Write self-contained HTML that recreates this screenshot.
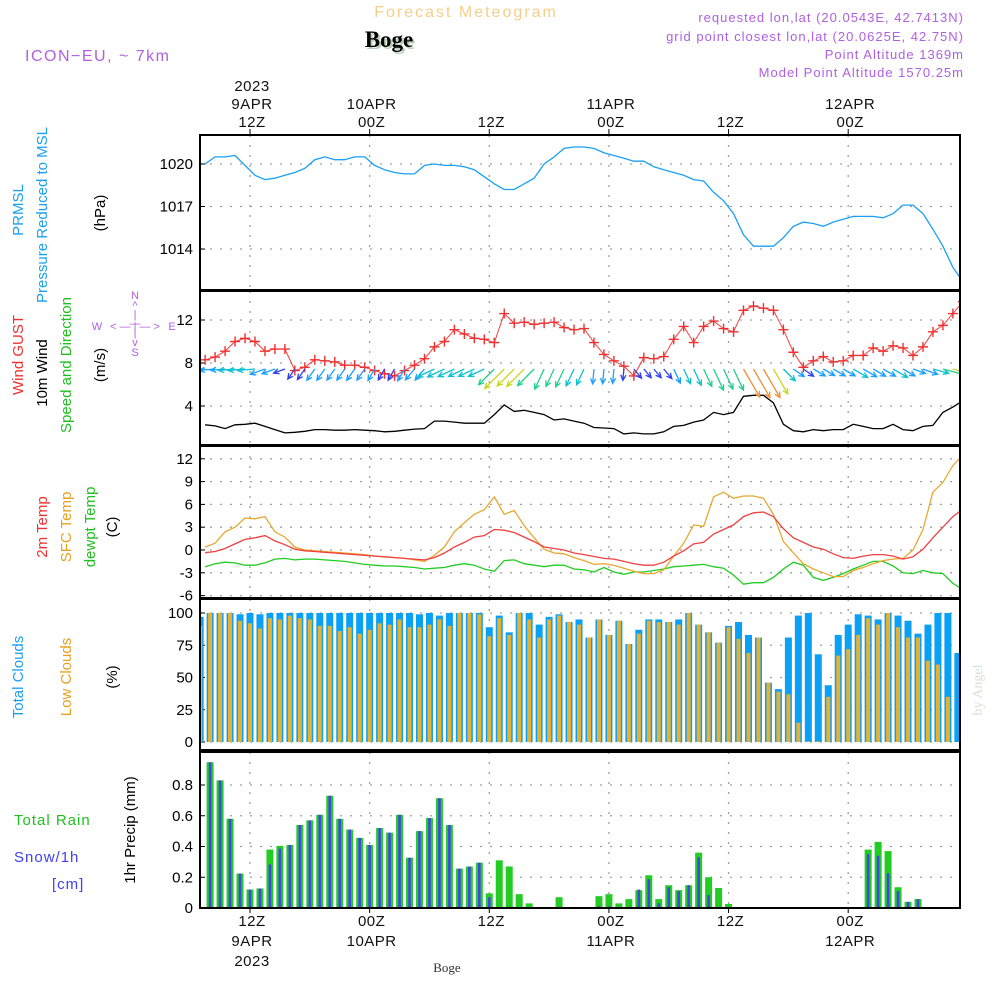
<!DOCTYPE html>
<html><head><meta charset="utf-8"><style>
html,body{margin:0;padding:0;background:#fff;width:1000px;height:1000px;overflow:hidden}
svg{display:block;font-family:"Liberation Sans",sans-serif}
</style></head><body>
<svg id="c" width="1000" height="1000" viewBox="0 0 1000 1000" xmlns="http://www.w3.org/2000/svg">
<text x="466" y="17" font-size="16" fill="#f5cf8a" text-anchor="middle" letter-spacing="2">Forecast Meteogram</text>
<text x="391" y="49" font-size="23" font-weight="bold" font-family="Liberation Serif,serif" fill="#b8d0b8" text-anchor="middle">Boge</text>
<text x="389" y="47" font-size="23" font-weight="bold" font-family="Liberation Serif,serif" fill="#000" text-anchor="middle">Boge</text>
<text x="25" y="61" font-size="16" fill="#b060e0" letter-spacing="1.5">ICON−EU, ~ 7km</text>
<g font-size="13" fill="#b060e0" text-anchor="end" letter-spacing="1">
<text x="964" y="22">requested lon,lat (20.0543E, 42.7413N)</text>
<text x="964" y="41">grid point closest lon,lat (20.0625E, 42.75N)</text>
<text x="964" y="59">Point Altitude 1369m</text>
<text x="964" y="77">Model Point Altitude 1570.25m</text>
</g>
<text transform="translate(982,690) rotate(-90)" font-size="14" font-family="Liberation Serif,serif" fill="#d8e0d8" text-anchor="middle">by Angel</text>
<text x="447" y="972" font-size="13" font-family="Liberation Serif,serif" fill="#333" text-anchor="middle">Boge</text>
<g id="leftlabels" font-size="15">
<text transform="translate(23,210) rotate(-90)" fill="#1aa0f0" text-anchor="middle">PRMSL</text>
<text transform="translate(47,215) rotate(-90)" fill="#1aa0f0" text-anchor="middle">Pressure Reduced to MSL</text>
<text transform="translate(105,213) rotate(-90)" fill="#000" text-anchor="middle">(hPa)</text>
<text transform="translate(23,355) rotate(-90)" fill="#f03030" text-anchor="middle">Wind GUST</text>
<text transform="translate(47,373) rotate(-90)" fill="#000" text-anchor="middle">10m Wind</text>
<text transform="translate(71,365) rotate(-90)" fill="#20c020" text-anchor="middle">Speed and Direction</text>
<text transform="translate(105,365) rotate(-90)" fill="#000" text-anchor="middle">(m/s)</text>
<text transform="translate(47,527) rotate(-90)" fill="#f03030" text-anchor="middle">2m Temp</text>
<text transform="translate(71,527) rotate(-90)" fill="#e8a020" text-anchor="middle">SFC Temp</text>
<text transform="translate(95,527) rotate(-90)" fill="#20c020" text-anchor="middle">dewpt Temp</text>
<text transform="translate(117,527) rotate(-90)" fill="#000" text-anchor="middle">(C)</text>
<text transform="translate(23,677) rotate(-90)" fill="#1aa0f0" text-anchor="middle">Total Clouds</text>
<text transform="translate(71,677) rotate(-90)" fill="#e8a020" text-anchor="middle">Low Clouds</text>
<text transform="translate(117,677) rotate(-90)" fill="#000" text-anchor="middle">(%)</text>
<text x="14" y="825" fill="#20c020" letter-spacing="1">Total   Rain</text>
<text x="14" y="862" fill="#4040f0" letter-spacing="1">Snow/1h</text>
<text x="52" y="889" fill="#4040f0" letter-spacing="1">[cm]</text>
<text transform="translate(135,830) rotate(-90)" fill="#000" text-anchor="middle">1hr Precip (mm)</text>
<g fill="#b060e0" font-size="11" text-anchor="middle">
<text x="135" y="299">N</text><text x="135" y="309">^</text><text x="135" y="327">—</text>
<text x="135" y="318">|</text><text x="135" y="336">|</text>
<text x="97" y="330">W</text><text x="135" y="330">&lt; — | — &gt;</text><text x="172" y="330">E</text>
<text x="135" y="346">v</text><text x="135" y="356">S</text>
</g>
</g>
<g id="plot"></g>
</svg>
<script>
// ---- data ----
const pointTimes0 = 7.5; // hours from 9APR 00Z of first hourly point
const pressure = [1020.0,1020.5,1020.5,1020.6,1019.9,1019.2,1018.9,1019.0,1019.2,1019.4,1019.7,1020.3,1020.5,1020.3,1020.3,1020.5,1020.5,1019.9,1019.6,1019.4,1019.3,1019.3,1019.9,1020.0,1019.9,1019.9,1019.8,1019.6,1019.1,1018.6,1018.2,1018.2,1018.6,1019.0,1020.0,1020.5,1021.1,1021.2,1021.2,1021.1,1020.8,1020.6,1020.4,1020.2,1020.2,1019.8,1019.6,1019.4,1019.2,1018.9,1018.8,1018.0,1017.4,1016.5,1015.0,1014.2,1014.2,1014.2,1014.8,1015.6,1015.9,1015.8,1015.6,1015.9,1016.1,1016.3,1016.3,1016.3,1016.2,1016.5,1017.1,1017.1,1016.5,1015.4,1014.2,1012.7,1011.7];
const gust = [8.3,8.55,9.1,10.0,10.3,10.0,9.1,9.3,9.3,7.3,7.6,8.3,8.2,8.1,7.8,7.8,7.6,7.3,7.0,6.8,7.3,7.8,8.4,9.5,10.0,11.1,10.7,10.3,10.2,9.9,12.6,11.7,11.8,11.6,11.7,11.8,11.3,11.1,11.2,9.9,8.8,8.2,7.7,6.8,8.5,8.4,8.6,10.2,11.4,9.9,11.4,11.9,11.2,10.9,12.9,13.3,13.1,12.9,11.1,9.0,7.6,8.2,8.6,8.1,8.2,8.7,8.7,9.4,9.1,9.6,9.4,8.7,9.5,10.9,11.5,12.6,13.7];
const wind = [2.25,2.15,1.9,2.25,2.3,2.4,2.1,1.8,1.5,1.55,1.65,1.8,1.8,1.75,1.75,1.8,1.75,1.7,1.6,1.65,1.75,1.85,1.9,2.6,2.6,2.5,2.4,2.4,2.4,3.2,4.1,3.5,3.6,3.4,3.2,2.7,2.8,2.6,2.4,2.0,1.95,1.9,1.4,1.5,1.4,1.4,1.6,2.1,2.2,2.5,2.7,3.4,3.2,3.4,4.9,5.0,5.0,4.3,2.3,1.7,1.6,1.8,1.7,1.8,1.8,2.3,2.1,1.9,1.9,2.3,1.8,1.7,2.1,2.2,3.4,3.9,4.5];
const windDir = [85,85,85,85,85,85,70,70,70,35,35,35,35,35,35,35,35,30,30,30,30,40,40,65,65,65,65,65,65,45,45,45,45,45,25,25,25,25,25,5,5,5,5,320,320,320,320,335,335,335,335,335,335,335,330,330,330,330,315,305,305,300,300,300,300,300,300,300,300,300,300,290,290,285,285,285,285];
const temp2m = [-0.36,-0.2,0.2,0.8,1.4,1.6,1.9,1.2,0.7,0.1,-0.1,-0.2,-0.3,-0.4,-0.5,-0.6,-0.7,-0.8,-0.9,-1.0,-1.1,-1.2,-1.3,-1.0,-0.4,0.4,1.0,1.7,1.9,2.7,2.6,2.3,1.7,1.1,0.4,0.2,0.0,-0.4,-0.6,-0.85,-1.1,-1.2,-1.5,-1.8,-2.0,-2.0,-1.6,-0.8,-0.1,0.8,1.0,2.1,2.7,3.3,4.4,4.9,5.0,4.4,2.8,1.6,1.0,0.4,0.1,-0.5,-1.0,-1.1,-0.8,-0.6,-0.6,-0.8,-1.2,-0.9,0.1,1.6,3.0,4.4,5.4];
const tempSfc = [0.4,0.9,2.4,3.0,4.2,4.1,4.4,2.4,1.7,0.4,0.0,-0.1,-0.2,-0.3,-0.4,-0.5,-0.6,-0.8,-0.9,-1.0,-1.1,-1.3,-1.5,-0.7,0.4,2.4,3.6,4.7,5.3,7.0,4.7,5.2,3.2,1.6,0.1,-0.4,-0.5,-1.0,-1.4,-1.9,-1.8,-2.0,-2.4,-2.8,-3.1,-3.1,-2.6,-0.8,0.9,3.3,3.1,7.0,7.6,6.8,7.1,7.1,6.8,4.7,1.1,-0.4,-1.8,-2.5,-3.0,-3.5,-3.5,-2.7,-2.3,-1.8,-1.4,-1.2,-1.1,0.0,2.7,7.6,8.9,11.1,12.5];
const dewpt = [-2.2,-1.8,-1.6,-1.7,-2.0,-2.0,-1.7,-1.2,-1.1,-1.3,-1.2,-1.2,-1.3,-1.4,-1.5,-1.7,-1.9,-2.0,-2.1,-2.1,-2.2,-2.3,-2.5,-2.4,-2.3,-2.0,-1.8,-2.0,-2.5,-2.8,-1.4,-1.3,-1.8,-2.0,-2.2,-2.0,-2.0,-2.5,-2.6,-2.9,-2.3,-2.9,-3.2,-2.9,-2.9,-2.7,-2.5,-2.2,-2.1,-2.0,-1.9,-2.2,-2.4,-3.3,-4.5,-4.3,-4.3,-3.6,-2.5,-1.6,-2.0,-3.6,-4.0,-3.6,-3.1,-2.5,-2.0,-1.5,-1.5,-2.1,-3.0,-3.1,-2.7,-3.0,-3.1,-4.4,-5.2];
const barTime0 = 7; // hour of first bar
const totalClouds = [97,100,100,100,99,100,99,100,100,100,100,100,100,100,100,100,100,100,100,100,100,100,99,100,98,100,100,100,100,89,98,85,100,100,91,97,99,93,95,81,95,83,94,76,87,95,95,93,95,100,91,85,77,90,93,83,81,46,41,81,98,100,68,44,83,91,99,98,95,100,98,94,84,91,100,100,69];
const lowClouds = [90,100,100,100,94,92,88,96,95,98,96,95,90,90,86,89,84,87,92,91,95,89,89,91,95,90,100,100,99,82,96,83,100,95,81,95,98,93,91,81,95,83,94,76,84,94,93,93,91,100,91,85,77,89,80,69,81,46,39,37,15,0.5,0.5,35,67,72,83,96,91,100,89,81,81,63,60,35,0];
const rainTotal = [0,0.948,0.83,0.58,0.224,0.12,0.127,0.38,0.404,0.41,0.54,0.57,0.606,0.73,0.58,0.51,0.456,0.41,0.52,0.49,0.606,0.327,0.50,0.585,0.714,0.54,0.256,0.27,0.295,0.095,0.31,0.27,0.09,0.03,0.005,0.005,0.07,0,0,0,0.077,0.09,0.03,0.058,0.116,0.213,0.058,0.148,0.116,0.148,0.36,0.2,0.13,0.026,0,0,0,0,0,0,0,0,0,0,0,0,0.006,0.38,0.43,0.37,0.135,0.04,0.058,0,0,0,0];
const snow = [0,0.948,0.83,0.58,0.224,0.12,0.127,0.284,0.387,0.41,0.54,0.57,0.606,0.73,0.58,0.51,0.456,0.41,0.52,0.49,0.606,0.327,0.50,0.585,0.714,0.54,0.256,0.27,0.295,0.07,0,0,0,0.005,0,0,0,0,0,0,0.01,0.01,0,0,0.12,0.187,0.03,0.135,0.11,0.148,0.33,0.084,0,0,0,0,0,0,0,0,0,0,0,0,0,0,0,0.35,0.34,0.226,0.11,0.04,0.058,0.003,0,0,0];
const pTicks = [1020,1017,1014];
const wTicks = [4,8,12];
const tTicks = [12,9,6,3,0,-3,-6];
const cTicks = [100,75,50,25,0];
const rTicks = [0.8,0.6,0.4,0.2,0];
const dayTicks = [12,24,36,48,60,72];

// ---- scales ----
const X0=200, X1=960;
const xT = t => 250 + (t-12)*9.97;
const yP = p => 164 - (p-1020)*14.17;
const yW = v => 406 - (v-4)*10.75;
const yT = v => 550 - 7.6*v;
const yC = v => 742 - 1.29*v;
const yR = v => 908 - 153.75*v;
const panels=[[135,290],[291,445],[446,598],[599,750],[752,908]];

const NS='http://www.w3.org/2000/svg';
const plot=document.getElementById('plot');
function mk(tag,attrs,parent){const e=document.createElementNS(NS,tag);for(const k in attrs)e.setAttribute(k,attrs[k]);(parent||plot).appendChild(e);return e;}
const clip=mk('clipPath',{id:'pc'});mk('rect',{x:X0,y:130,width:X1-X0,height:780},clip);

// grids
const gridG=mk('g',{'stroke':'#a0a0a0','stroke-width':1.3,'stroke-dasharray':'2,8'});


panels.forEach(([a,b])=>{dayTicks.forEach(t=>mk('line',{x1:xT(t),x2:xT(t),y1:a,y2:b},gridG));});
function hgrid(vals,f){vals.forEach(v=>mk('line',{x1:X0,x2:X1,y1:f(v),y2:f(v)},gridG));}
hgrid(pTicks,yP);hgrid(wTicks,yW);hgrid(tTicks,yT);hgrid(cTicks,yC);hgrid(rTicks,yR);

// tick labels
function ylabels(vals,f,name,fmt){const g=mk('g',{'font-size':15,'text-anchor':'end',fill:'#000'});


vals.forEach(v=>{const t=mk('text',{x:193,y:f(v)+5},g);t.textContent=fmt?fmt(v):v;mk('line',{x1:X0,x2:X0+5,y1:f(v),y2:f(v),stroke:'#000'},g);});}
ylabels(pTicks,yP,'pressure-y-ticks');ylabels(wTicks,yW,'wind-y-ticks');ylabels(tTicks,yT,'temp-y-ticks');ylabels(cTicks,yC,'cloud-y-ticks');ylabels(rTicks,yR,'precip-y-ticks',v=>v===0?'0':v.toFixed(1));

const cg=mk('g',{'clip-path':'url(#pc)'});
// clouds
totalClouds.forEach((v,j)=>{const cx=xT(barTime0+j);
 const r=mk('rect',{x:cx-3.5,y:yC(v),width:7,height:yC(0)-yC(v),fill:'#0aa0f5'},cg);
 
 
 const o=mk('rect',{x:cx-2,y:yC(lowClouds[j]),width:4,height:yC(0)-yC(lowClouds[j]),fill:'#e8b030'},cg);
 
 });
// precip
rainTotal.forEach((v,j)=>{const cx=xT(barTime0+j);
 if(v>0){const r=mk('rect',{x:cx-3.5,y:yR(v),width:7,height:yR(0)-yR(v),fill:'#22cc22'},cg);
 
 }
 if(snow[j]>0){const s=mk('rect',{x:cx-1.3,y:yR(snow[j]),width:2.6,height:yR(0)-yR(snow[j]),fill:'#4444ee'},cg);
 
 }});
mk('line',{x1:X0,x2:X1,y1:yR(0)-0.5,y2:yR(0)-0.5,stroke:'#333','stroke-width':1,'stroke-dasharray':'4,2'},cg);

function line(arr,f,color,name,w){const pts=arr.map((v,i)=>xT(pointTimes0+i).toFixed(1)+','+f(v).toFixed(1)).join(' ');
 const p=mk('polyline',{points:pts,fill:'none',stroke:color,'stroke-width':w||1.3},cg);
 
 return p;}
line(pressure,yP,'#1aa0f5','pressure-line');
line(wind,yW,'#000','wind-speed-line');
line(gust,yW,'#f04040','gust-line',1);
line(dewpt,yT,'#22cc22','dewpoint-line');
line(tempSfc,yT,'#e8a830','sfc-temp-line');
line(temp2m,yT,'#f04040','temp-2m-line');
// gust markers
const gm=mk('g',{stroke:'#f03030','stroke-width':1.4},cg);


gust.forEach((v,i)=>{const x=xT(pointTimes0+i),y=yW(v);mk('path',{d:`M${x-5},${y}H${x+5}M${x},${y-5}V${y+5}`},gm);});
// wind arrows
function wcol(s){if(s<1.7)return'#3040f0';if(s<2.2)return'#1aa0ff';if(s<2.7)return'#10c0d0';if(s<3.5)return'#20d090';if(s<4.4)return'#c8d820';return'#f09030';}
const wa=mk('g',{'stroke-width':1.3,fill:'none'},cg);


wind.forEach((s,i)=>{const x=xT(pointTimes0+i),y=369;const to=(windDir[i]+180)*Math.PI/180;
 const L=6*s+3;const dx=Math.sin(to),dy=-Math.cos(to);const x2=x+dx*L,y2=y+dy*L;
 const a=Math.atan2(dy,dx),h=6;
 const p=`M${x},${y}L${x2},${y2}M${x2-h*Math.cos(a-0.45)},${y2-h*Math.sin(a-0.45)}L${x2},${y2}L${x2-h*Math.cos(a+0.45)},${y2-h*Math.sin(a+0.45)}`;
 mk('path',{d:p,stroke:wcol(s)},wa);});

// frames
panels.forEach(([a,b])=>{const r=mk('rect',{x:X0,y:a,width:X1-X0,height:b-a,fill:'none',stroke:'#000','stroke-width':2});
 
 });
// time axis labels
const topLab=[['2023','9APR','12Z'],['','10APR','00Z'],['','','12Z'],['','11APR','00Z'],['','','12Z'],['','12APR','00Z']];
const botLab=[['12Z','9APR','2023'],['00Z','10APR',''],['12Z','',''],['00Z','11APR',''],['12Z','',''],['00Z','12APR','']];
const tg=mk('g',{'font-size':15,'text-anchor':'middle',fill:'#111','letter-spacing':0.5});


dayTicks.forEach((t,k)=>{const x=xT(t)+2;
 topLab[k].forEach((s,r)=>{if(s){const e=mk('text',{x:x,y:91+r*18},tg);e.textContent=s;}});
 botLab[k].forEach((s,r)=>{if(s){const e=mk('text',{x:x,y:926+r*20},tg);e.textContent=s;}});
 mk('line',{x1:xT(t),x2:xT(t),y1:129,y2:135,stroke:'#000'},tg);
 mk('line',{x1:xT(t),x2:xT(t),y1:908,y2:913,stroke:'#000'},tg);});
</script>
</body></html>
